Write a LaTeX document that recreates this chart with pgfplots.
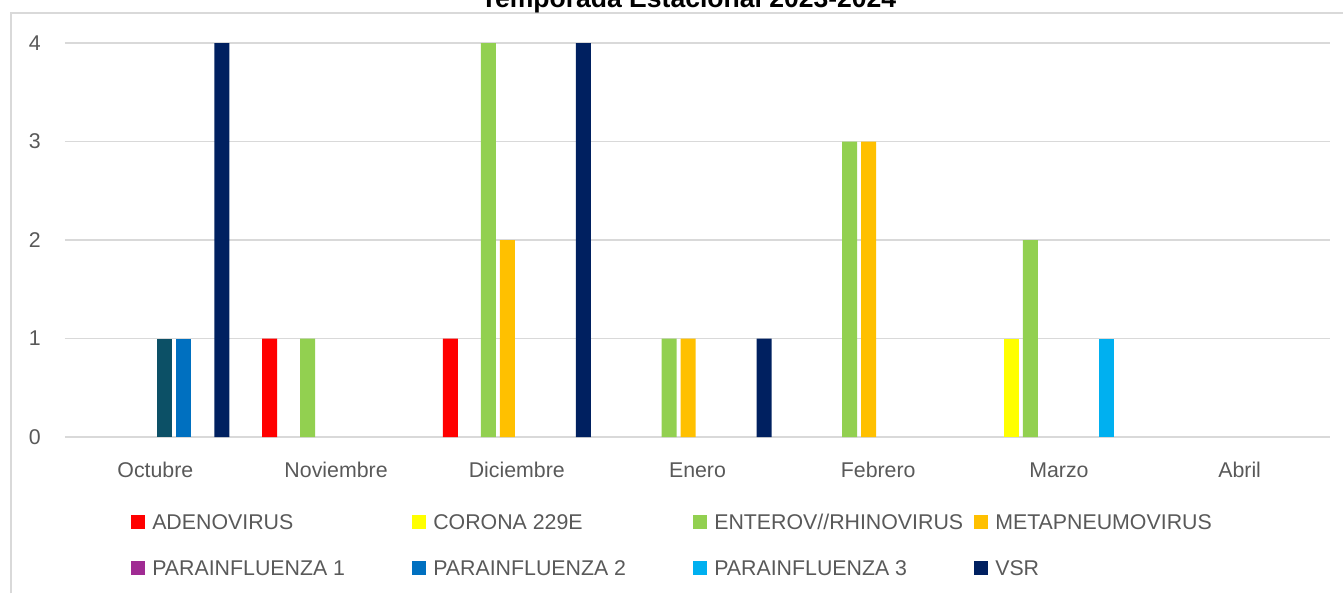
\documentclass[border=0pt]{standalone}
\usepackage{pgfplots}
\pgfplotsset{compat=1.18}
\usepackage{fontspec}
\setmainfont{Liberation Sans}
\definecolor{gridgray}{HTML}{D9D9D9}
\definecolor{txtgray}{HTML}{595959}
\definecolor{cAde}{HTML}{FF0000}
\definecolor{cCor}{HTML}{FFFF00}
\definecolor{cEnt}{HTML}{92D050}
\definecolor{cMet}{HTML}{FFC000}
\definecolor{cPa1}{HTML}{A02B93}
\definecolor{cPa1bar}{HTML}{0C5066}
\definecolor{cPa2}{HTML}{0070C0}
\definecolor{cPa3}{HTML}{00B0F0}
\definecolor{cVSR}{HTML}{002060}
\newcommand{\legitem}[4]{%
  \fill[#1] ({#3*0.75pt},{-#4*0.75pt}) rectangle ({(#3+14)*0.75pt},{-(#4-14)*0.75pt});
  \node[anchor=base west, inner sep=0pt, text=txtgray, font=\fontsize{16}{19}\selectfont] at ({(#3+21)*0.75pt},{-#4*0.75pt}) {#2};%
}
\begin{document}
\begin{tikzpicture}
\useasboundingbox (0,0) rectangle (1007.25pt,-444.75pt);
\clip (0,0) rectangle (1007.25pt,-444.75pt);
\draw[color=gridgray, line width=1.1pt] (8.25pt,-445pt) -- (8.25pt,-9.75pt) -- (1008pt,-9.75pt);
\node[anchor=base, inner sep=0pt, font=\bfseries\fontsize{19.9}{22}\selectfont] at (516.4pt,-5.6pt) {Temporada Estacional 2023-2024};
\begin{axis}[
  at={(48.75pt,-327.75pt)}, anchor=south west,
  scale only axis, width=948.75pt, height=295.5pt,
  ybar=3pt, bar width=11.25pt,
  xmin=-0.5, xmax=6.5, ymin=0, ymax=4,
  enlargelimits=false,
  xtick={0,...,6},
  xticklabels={Octubre,Noviembre,Diciembre,Enero,Febrero,Marzo,Abril},
  ytick={0,1,2,3,4},
  ymajorgrids, grid style={color=gridgray, line width=1.1pt},
  axis line style={draw=none}, tick style={draw=none},
  /pgf/number format/assume math mode=true,
  tick label style={font=\fontsize{16}{19}\selectfont, text=txtgray, inner sep=0pt},
  yticklabel style={anchor=east, xshift=-18pt},
  xticklabel style={anchor=base, yshift=-26pt},
  clip=false,
]
\addplot[fill=cAde, draw=none] coordinates {(1,1) (2,1)};
\addplot[fill=cCor, draw=none] coordinates {(5,1)};
\addplot[fill=cEnt, draw=none] coordinates {(1,1) (2,4) (3,1) (4,3) (5,2)};
\addplot[fill=cMet, draw=none] coordinates {(2,2) (3,1) (4,3)};
\addplot[fill=cPa1bar, draw=none] coordinates {(0,1)};
\addplot[fill=cPa2, draw=none] coordinates {(0,1)};
\addplot[fill=cPa3, draw=none] coordinates {(5,1)};
\addplot[fill=cVSR, draw=none] coordinates {(0,4) (2,4) (3,1)};
\end{axis}
\legitem{cAde}{ADENOVIRUS}{131}{529}
\legitem{cCor}{CORONA 229E}{412}{529}
\legitem{cEnt}{ENTEROV//RHINOVIRUS}{693}{529}
\legitem{cMet}{METAPNEUMOVIRUS}{974}{529}
\legitem{cPa1}{PARAINFLUENZA 1}{131}{575}
\legitem{cPa2}{PARAINFLUENZA 2}{412}{575}
\legitem{cPa3}{PARAINFLUENZA 3}{693}{575}
\legitem{cVSR}{VSR}{974}{575}
\end{tikzpicture}
\end{document}
